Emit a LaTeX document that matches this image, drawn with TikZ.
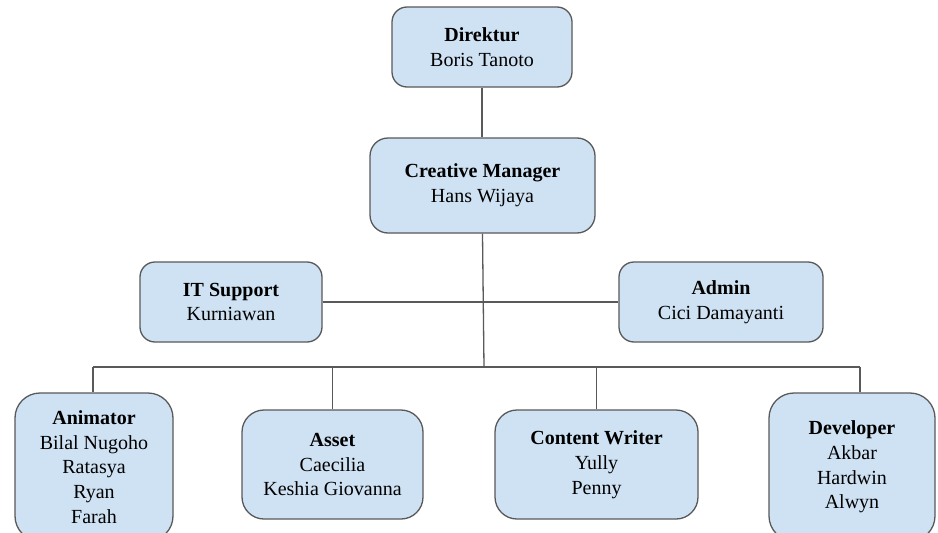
\documentclass[tikz,border=0pt]{standalone}
\usepackage{fontspec}
\setmainfont{Liberation Serif}
\definecolor{boxfill}{HTML}{CFE2F3}
\definecolor{edge}{HTML}{595959}
\begin{document}
\begin{tikzpicture}[x=1pt,y=-1pt,
  box/.style={draw=edge, fill=boxfill, line width=1.3pt, rounded corners=#1, align=center,
    font=\fontsize{20}{24.75}\selectfont, inner sep=0pt},
  box/.default=15pt,
  link/.style={draw=edge, line width=1.3pt}]
\path[use as bounding box, clip] (0,0) rectangle (938,533);
\fill[white] (0,0) rectangle (938,533);
\node[box, minimum width=180pt, minimum height=80pt] (dir) at (482,47) {\textbf{Direktur}\\Boris Tanoto};
\node[box=18pt, minimum width=225pt, minimum height=95pt] (cm) at (482.5,185.5) {\textbf{Creative Manager}\\Hans Wijaya};
\node[box, minimum width=182pt, minimum height=80pt] (it) at (231,302) {\textbf{IT Support}\\Kurniawan};
\node[box, minimum width=204pt, minimum height=80pt] (adm) at (721,302) {\textbf{Admin}\\Cici Damayanti};
\node[box=25pt, minimum width=158pt, minimum height=148pt] (anim) at (94,467) {\textbf{Animator}\\Bilal Nugoho\\Ratasya\\Ryan\\Farah};
\node[box=22pt, minimum width=181pt, minimum height=109pt] (asset) at (332.5,464.5) {\textbf{Asset}\\Caecilia\\Keshia Giovanna};
\node[box=22pt, minimum width=203pt, minimum height=109pt] (cw) at (596.5,464.5) {\textbf{Content Writer}\\Yully\\Penny};
\node[box=25pt, minimum width=166pt, minimum height=148pt] (dev) at (852,467) {\textbf{Developer}\\Akbar\\Hardwin\\Alwyn};
\coordinate (busL) at (93,367);
\coordinate (busM) at (484,367);
\coordinate (busR) at (860,367);
\draw[link] (dir.south) -- (dir.south |- cm.north);
\draw[link] (cm.south) -- (busM);
\draw[link] (it.east) -- (adm.west);
\draw[link] (busL) -- (busR);
\draw[link] (busL) -- (busL |- anim.north);
\draw[link] (asset.north) -- (asset.north |- busL);
\draw[link] (cw.north) -- (cw.north |- busL);
\draw[link] (busR) -- (busR |- dev.north);
\end{tikzpicture}
\end{document}
